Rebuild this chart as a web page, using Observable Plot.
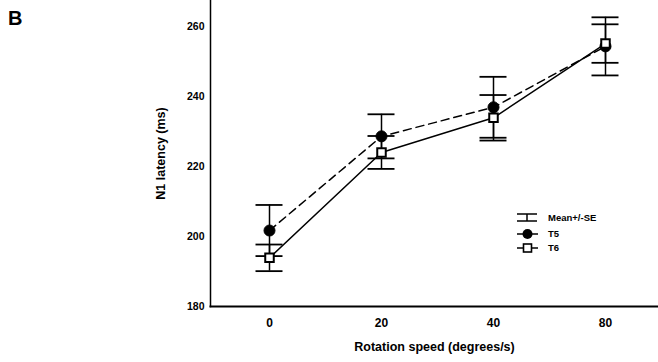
<!DOCTYPE html>
<html>
<head>
<meta charset="utf-8">
<script src="https://cdn.jsdelivr.net/npm/d3@7"></script>
<script src="https://cdn.jsdelivr.net/npm/@observablehq/plot@0.6"></script>
<style>
  html, body { margin: 0; padding: 0; background: #fff; }
  #wrap { position: relative; width: 658px; height: 362px; overflow: hidden; }
  #wrap svg { position: absolute; left: 0; top: 0; }
</style>
</head>
<body>
<div id="wrap"></div>
<script>
// ---- data ----
const speeds = ["0", "20", "40", "80"];           // Rotation speed (degrees/s)
const t5Mean = [201.7, 228.6, 236.9, 254.3];      // T5, N1 latency (ms)
const t5SE   = [7.3, 6.3, 8.7, 8.3];
const t6Mean = [193.9, 224.0, 233.9, 255.1];      // T6, N1 latency (ms)
const t6SE   = [3.8, 4.7, 6.5, 5.5];
const yTicks = [180, 200, 220, 240, 260];
const legendLabels = ["Mean+/-SE", "T5", "T6"];
const panelLabel = "B";

// ---- table built from arrays ----
const rows = [];
speeds.forEach((s, i) => {
  rows.push({speed: s, series: "T5", mean: t5Mean[i], lo: t5Mean[i] - t5SE[i], hi: t5Mean[i] + t5SE[i]});
  rows.push({speed: s, series: "T6", mean: t6Mean[i], lo: t6Mean[i] - t6SE[i], hi: t6Mean[i] + t6SE[i]});
});
const t5 = rows.filter(d => d.series === "T5");
const t6 = rows.filter(d => d.series === "T6");

const font = "'Liberation Sans', Arial, Helvetica, sans-serif";
const capInset = 31.5;

const chart = Plot.plot({
  width: 658,
  height: 362,
  marginLeft: 210,
  marginRight: 0,
  marginTop: 0,
  marginBottom: 56,
  style: {fontFamily: font, background: "transparent", color: "#000"},
  x: {type: "band", domain: speeds, range: [212, 662], paddingInner: 0.2, paddingOuter: 0.1},
  y: {domain: [180, 267.4]},
  marks: [
    Plot.frame({anchor: "left", strokeWidth: 1.5}),
    Plot.frame({anchor: "bottom", strokeWidth: 2}),
    Plot.axisY({ticks: yTicks, tickSize: 0, tickPadding: 6, fontSize: 10.5, fontWeight: "bold",
      label: "N1 latency (ms)", labelAnchor: "center", labelOffset: 54, labelArrow: "none"}),
    Plot.axisX({tickSize: 0, tickPadding: 12, fontSize: 12, fontWeight: "bold",
      label: "Rotation speed (degrees/s)", labelAnchor: "center", labelOffset: 44, labelArrow: "none"}),
    // error bars
    Plot.ruleX(rows, {x: "speed", y1: "lo", y2: "hi", stroke: "#000", strokeWidth: 1.5}),
    Plot.tickY(rows, {x: "speed", y: "lo", stroke: "#000", strokeWidth: 1.8, insetLeft: capInset, insetRight: capInset}),
    Plot.tickY(rows, {x: "speed", y: "hi", stroke: "#000", strokeWidth: 1.8, insetLeft: capInset, insetRight: capInset}),
    // lines
    Plot.line(t5, {x: "speed", y: "mean", stroke: "#000", strokeWidth: 1.5, strokeDasharray: "8,5"}),
    Plot.line(t6, {x: "speed", y: "mean", stroke: "#000", strokeWidth: 1.5}),
    // markers
    Plot.dot(t5, {x: "speed", y: "mean", r: 5.5, fill: "#000", stroke: "#000", strokeWidth: 1}),
    Plot.dot(t6, {x: "speed", y: "mean", r: 4.8, symbol: "square", fill: "#fff", stroke: "#000", strokeWidth: 2})
  ]
});
chart.querySelectorAll("g[aria-label='y-axis label'] text, g[aria-label='x-axis label'] text").forEach(t => {
  t.setAttribute("font-weight", "bold");
  t.setAttribute("font-size", "12.5");
});
document.getElementById("wrap").appendChild(chart);

// ---- overlay: panel label and legend ----
const ov = d3.select("#wrap").append("svg")
  .attr("width", 658).attr("height", 362)
  .style("font-family", font);

ov.append("text").attr("x", 8).attr("y", 25)
  .attr("font-size", 20).attr("font-weight", "bold").text(panelLabel);

const lg = ov.append("g").attr("transform", "translate(517,0)");
// Mean+/-SE icon
lg.append("line").attr("x1", 0).attr("x2", 20).attr("y1", 214).attr("y2", 214).attr("stroke", "#000").attr("stroke-width", 1.5);
lg.append("line").attr("x1", 0).attr("x2", 20).attr("y1", 221).attr("y2", 221).attr("stroke", "#000").attr("stroke-width", 1.5);
lg.append("line").attr("x1", 10).attr("x2", 10).attr("y1", 214).attr("y2", 221).attr("stroke", "#000").attr("stroke-width", 1.5);
// T5
lg.append("line").attr("x1", 0).attr("x2", 21).attr("y1", 234).attr("y2", 234).attr("stroke", "#000").attr("stroke-width", 1.5);
lg.append("circle").attr("cx", 10.5).attr("cy", 234).attr("r", 5).attr("fill", "#000");
// T6
lg.append("line").attr("x1", 0).attr("x2", 21).attr("y1", 248).attr("y2", 248).attr("stroke", "#000").attr("stroke-width", 1.5);
lg.append("rect").attr("x", 6.5).attr("y", 244).attr("width", 8).attr("height", 8).attr("fill", "#fff").attr("stroke", "#000").attr("stroke-width", 1.6);
[218, 234, 248].forEach((yy, i) => {
  lg.append("text").attr("x", 31).attr("y", yy).attr("dy", "0.35em")
    .attr("font-size", 9.5).attr("font-weight", "bold").text(legendLabels[i]);
});
</script>
</body>
</html>
